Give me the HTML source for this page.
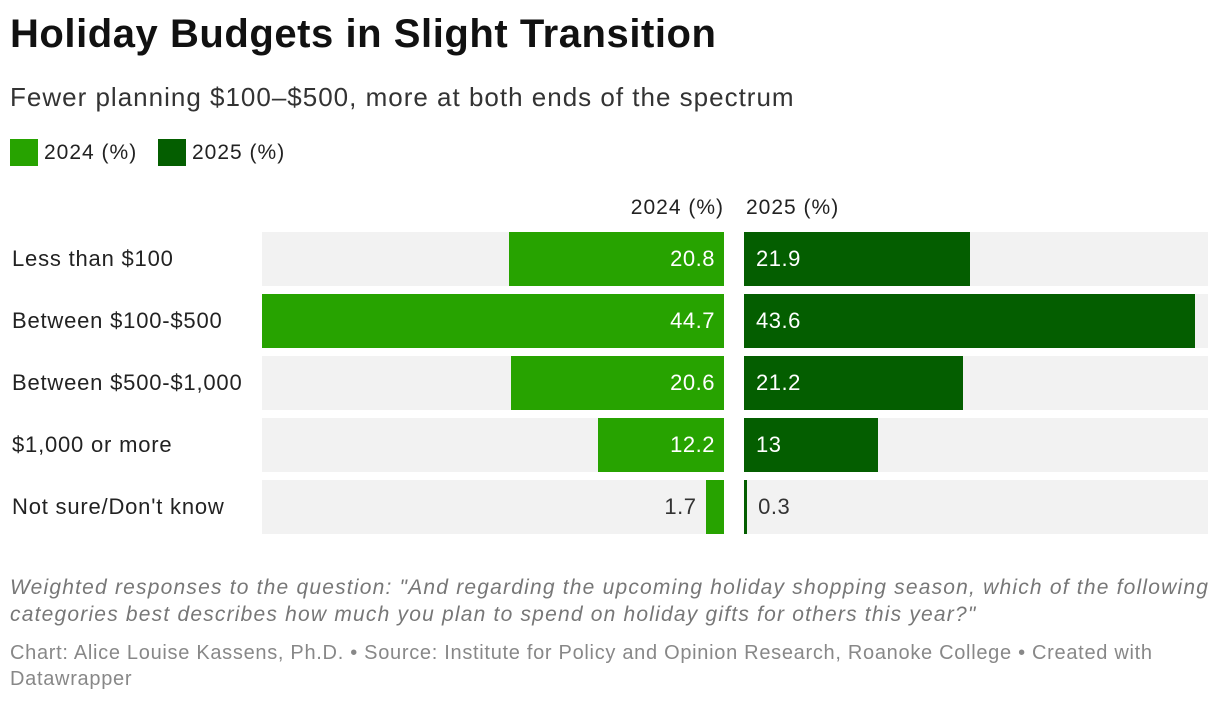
<!DOCTYPE html>
<html><head><meta charset="utf-8">
<style>
body{margin:0;width:1220px;height:702px;background:#fff;font-family:"Liberation Sans",sans-serif;overflow:hidden;position:relative;color:#222}
.abs{position:absolute;white-space:nowrap}
</style></head><body>
<div class="abs" style="left:10px;top:12px;font-size:40px;font-weight:bold;color:#111;letter-spacing:0.55px">Holiday Budgets in Slight Transition</div>
<div class="abs" style="left:10px;top:82px;font-size:26px;color:#333;letter-spacing:1px">Fewer planning $100–$500, more at both ends of the spectrum</div>
<div class="abs" style="left:10px;top:139px;font-size:21px;display:flex;align-items:center;letter-spacing:1px"><span style="display:inline-block;width:28px;height:27px;background:#27a300;margin-right:6px"></span>2024 (%)</div>
<div class="abs" style="left:158px;top:139px;font-size:21px;display:flex;align-items:center;letter-spacing:1px"><span style="display:inline-block;width:28px;height:27px;background:#045e00;margin-right:6px"></span>2025 (%)</div>
<div class="abs" style="left:500px;width:224px;text-align:right;top:196px;font-size:21px;letter-spacing:1px">2024 (%)</div>
<div class="abs" style="left:746px;top:196px;font-size:21px;letter-spacing:1px">2025 (%)</div>
<div id="chart"></div>
<div class="abs" style="left:10px;top:574px;font-size:21px;font-style:italic;color:#777;line-height:27px;letter-spacing:1.2px">Weighted responses to the question: "And regarding the upcoming holiday shopping season, which of the following<br>categories best describes how much you plan to spend on holiday gifts for others this year?"</div>
<div class="abs" style="left:10px;top:640px;font-size:20px;color:#888;line-height:26px;letter-spacing:0.7px">Chart: Alice Louise Kassens, Ph.D. • Source: Institute for Policy and Opinion Research, Roanoke College • Created with<br>Datawrapper</div>
<script>
const categories=["Less than $100","Between $100-$500","Between $500-$1,000","$1,000 or more","Not sure/Don't know"];
const values2024=[20.8,44.7,20.6,12.2,1.7];
const values2025=[21.9,43.6,21.2,13,0.3];
const labels2024=["20.8","44.7","20.6","12.2","1.7"];
const labels2025=["21.9","43.6","21.2","13","0.3"];
const c=document.getElementById('chart');
const maxV=44.7, panelW=462, L0=262, R0=744, top0=232, rowH=54, gap=8;
const x=v=>v/maxV*panelW;
function div(css,txt){const d=document.createElement('div');d.className='abs';d.style.cssText=css;if(txt!==undefined)d.textContent=txt;c.appendChild(d);return d;}
categories.forEach((cat,i)=>{
  const y=top0+i*(rowH+gap);
  let d=div(`left:12px;top:${y}px;height:${rowH}px;line-height:${rowH}px;font-size:22px;color:#222;letter-spacing:0.8px`,cat);
  
  
  d=div(`left:${L0}px;top:${y}px;width:${panelW}px;height:${rowH}px;background:#f2f2f2`);
  
  
  d=div(`left:${R0}px;top:${y}px;width:${panelW+2}px;height:${rowH}px;background:#f2f2f2`);
  
  
  const w1=x(values2024[i]);
  d=div(`left:${L0+panelW-w1}px;top:${y}px;width:${w1}px;height:${rowH}px;background:#27a300`);
  
  
  const in1=w1>60;
  d=div(`top:${y}px;height:${rowH}px;line-height:${rowH}px;font-size:22px;letter-spacing:0.5px;color:${in1?'#fff':'#333'};right:${1220-(in1?L0+panelW-9:L0+panelW-w1-10)}px`,labels2024[i]);
  
  
  const w2=x(values2025[i]);
  d=div(`left:${R0}px;top:${y}px;width:${w2}px;height:${rowH}px;background:#045e00`);
  
  
  const in2=w2>60;
  d=div(`top:${y}px;height:${rowH}px;line-height:${rowH}px;font-size:22px;letter-spacing:0.5px;color:${in2?'#fff':'#333'};left:${in2?R0+12:R0+w2+11}px`,labels2025[i]);
  
  
});
</script>
</body></html>
